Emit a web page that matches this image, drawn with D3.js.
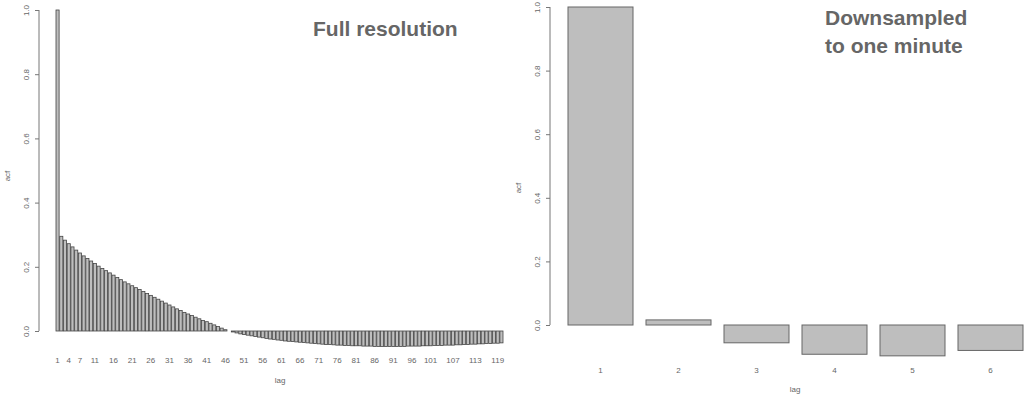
<!DOCTYPE html>
<html>
<head>
<meta charset="utf-8">
<script src="https://cdnjs.cloudflare.com/ajax/libs/d3/7.8.5/d3.min.js"></script>
<style>
  body { margin: 0; background: #fff; }
  svg { display: block; }
  text { font-family: "Liberation Sans", Arial, sans-serif; }
  .tick-label { font-size: 8px; fill: #666; }
  .axis-title { font-size: 8px; fill: #666; }
  .panel-title { font-size: 21px; font-weight: bold; fill: #666; }
</style>
</head>
<body>
<script>
var width = 1025,
    height = 396;

// full resolution acf, lags 1..120
var full_acf = [
  1.000, 0.295, 0.283, 0.272, 0.262, 0.252, 0.243, 0.234, 0.226, 0.218,
  0.210, 0.202, 0.195, 0.188, 0.181, 0.174, 0.167, 0.160, 0.153, 0.147,
  0.141, 0.135, 0.129, 0.123, 0.117, 0.111, 0.105, 0.099, 0.093, 0.087,
  0.081, 0.075, 0.069, 0.064, 0.058, 0.053, 0.048, 0.043, 0.038, 0.033,
  0.029, 0.024, 0.019, 0.014, 0.009, 0.004, 0.000, -0.003, -0.006, -0.009,
  -0.011, -0.013, -0.015, -0.017, -0.019, -0.021, -0.023, -0.025, -0.026, -0.028,
  -0.029, -0.031, -0.032, -0.033, -0.034, -0.035, -0.036, -0.037, -0.038, -0.039,
  -0.040, -0.041, -0.042, -0.042, -0.043, -0.044, -0.044, -0.045, -0.045, -0.046,
  -0.046, -0.046, -0.047, -0.047, -0.047, -0.048, -0.048, -0.048, -0.048, -0.048,
  -0.048, -0.048, -0.048, -0.048, -0.047, -0.047, -0.047, -0.047, -0.046, -0.046,
  -0.046, -0.045, -0.045, -0.045, -0.044, -0.044, -0.044, -0.043, -0.043, -0.042,
  -0.042, -0.041, -0.041, -0.040, -0.040, -0.039, -0.039, -0.038, -0.038, -0.037
];
var full_lags = d3.range(1, full_acf.length + 1);
var full_tick_labels = [1, 4, 7, 11, 16, 21, 26, 31, 36, 41, 46, 51, 56, 61, 66,
  71, 76, 81, 86, 91, 96, 101, 107, 113, 119];

// downsampled to one minute, lags 1..6
var min_lags = [1, 2, 3, 4, 5, 6];
var min_acf = [1.000, 0.016, -0.056, -0.092, -0.097, -0.080];

var y_ticks = [0, 0.2, 0.4, 0.6, 0.8, 1.0];

var svg = d3.select("body")
    .append("svg")
    .attr("width", width)
    .attr("height", height);

function draw_panel(opts) {
    var x = d3.scaleBand()
        .domain(opts.lags)
        .range(opts.xrange)
        .paddingInner(0.2 / 1.2)
        .paddingOuter(0);

    var y = d3.scaleLinear()
        .domain([0, 1])
        .range(opts.yrange);

    var g = svg.append("g");

    g.selectAll("rect.bar")
        .data(opts.values)
        .enter()
        .append("rect")
        .attr("class", "bar")
        .attr("x", function(d, i) { return x(opts.lags[i]); })
        .attr("width", x.bandwidth())
        .attr("y", function(d) { return y(Math.max(0, d)); })
        .attr("height", function(d) { return Math.abs(y(d) - y(0)); })
        .style("fill", "#bebebe")
        .style("stroke", opts.stroke)
        .style("stroke-width", opts.strokeWidth);

    // y axis, R style: rotated labels, outward ticks
    var yaxis = d3.axisLeft(y)
        .tickValues(y_ticks)
        .tickSize(4)
        .tickFormat(d3.format(".1f"));
    var ya = g.append("g")
        .attr("transform", "translate(" + opts.axisX + ",0)")
        .call(yaxis);
    ya.selectAll("path, line").style("stroke", "#777");
    ya.select(".domain").attr("d", "M0," + y(0) + "V" + y(1));
    ya.selectAll("text")
        .attr("class", "tick-label")
        .attr("x", null).attr("dy", null)
        .attr("text-anchor", "middle")
        .attr("transform", "translate(-13,0) rotate(-90)")
        .attr("dy", "0.32em")
        .style("font-size", "8px")
        .style("fill", "#666")
        .style("font-family", "Liberation Sans, Arial, sans-serif");

    // bar names
    g.selectAll("text.name")
        .data(opts.tickLabels)
        .enter()
        .append("text")
        .attr("class", "tick-label")
        .attr("x", function(d) { return x(d) + x.bandwidth() / 2; })
        .attr("y", opts.namesY)
        .attr("text-anchor", "middle")
        .text(function(d) { return d; });

    g.append("text")
        .attr("class", "axis-title")
        .attr("x", opts.lagX)
        .attr("y", opts.lagY)
        .attr("text-anchor", "middle")
        .text("lag");

    g.append("text")
        .attr("class", "axis-title")
        .attr("transform", "translate(" + opts.acfX + "," + opts.acfY + ") rotate(-90)")
        .attr("text-anchor", "middle")
        .text("acf");
}

draw_panel({
    lags: full_lags,
    values: full_acf,
    tickLabels: full_tick_labels,
    xrange: [56, 503],
    yrange: [331, 10],
    axisX: 39,
    namesY: 363,
    lagX: 280,
    lagY: 383,
    acfX: 10,
    acfY: 176,
    stroke: "#444",
    strokeWidth: 0.8
});

draw_panel({
    lags: min_lags,
    values: min_acf,
    tickLabels: min_lags,
    xrange: [568, 1023],
    yrange: [325, 7],
    axisX: 550,
    namesY: 373,
    lagX: 795,
    lagY: 392,
    acfX: 521,
    acfY: 188,
    stroke: "#666",
    strokeWidth: 1
});

svg.append("text")
    .attr("class", "panel-title")
    .attr("x", 313)
    .attr("y", 36)
    .text("Full resolution");

svg.append("text")
    .attr("class", "panel-title")
    .attr("x", 825)
    .attr("y", 25)
    .text("Downsampled");

svg.append("text")
    .attr("class", "panel-title")
    .attr("x", 825)
    .attr("y", 53)
    .text("to one minute");
</script>
</body>
</html>
